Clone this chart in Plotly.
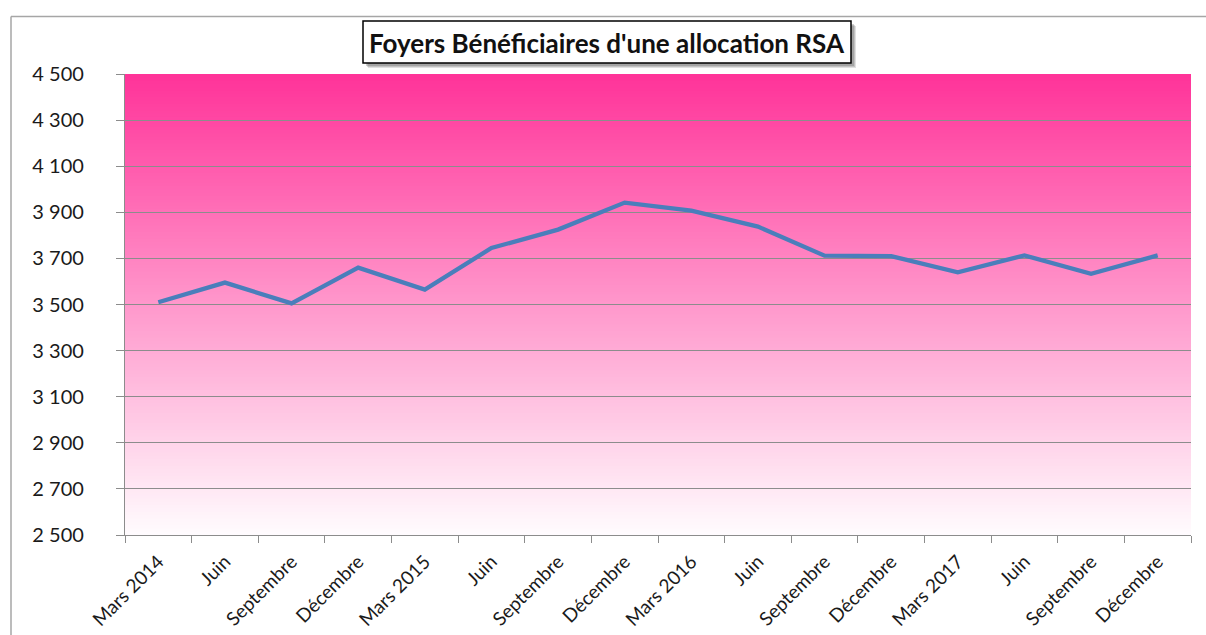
import plotly.graph_objects as go

# Quarterly series: households receiving RSA
periods = ["2014-03", "2014-06", "2014-09", "2014-12",
           "2015-03", "2015-06", "2015-09", "2015-12",
           "2016-03", "2016-06", "2016-09", "2016-12",
           "2017-03", "2017-06", "2017-09", "2017-12"]
period_labels = ["Mars 2014", "Juin", "Septembre", "Décembre",
                 "Mars 2015", "Juin", "Septembre", "Décembre",
                 "Mars 2016", "Juin", "Septembre", "Décembre",
                 "Mars 2017", "Juin", "Septembre", "Décembre"]
foyers_rsa = [3510, 3595, 3505, 3660, 3565, 3745, 3825, 3942,
              3907, 3838, 3712, 3710, 3640, 3713, 3633, 3713]

y_min, y_max, y_step = 2500, 4500, 200
title_text = "Foyers Bénéficiaires d'une allocation RSA"

W, H = 1206, 635
M_L, M_R, M_T, M_B = 125, 15, 74, 100
plot_w = W - M_L - M_R
plot_h = H - M_T - M_B

fig = go.Figure()
fig.add_trace(go.Scatter(
    x=periods, y=foyers_rsa, mode="lines",
    line=dict(color="#4A7EBB", width=4.3),
    hoverinfo="x+y", showlegend=False,
))

# Vertical pink-to-white gradient behind the plot area
top_rgb = (255, 51, 153)
bot_rgb = (255, 252, 254)
n_bands = 140
shapes = []
for i in range(n_bands):
    t0 = i / n_bands
    t1 = (i + 1) / n_bands
    tm = (t0 + t1) / 2
    c = tuple(round(bot_rgb[k] + (top_rgb[k] - bot_rgb[k]) * tm) for k in range(3))
    shapes.append(dict(
        type="rect", layer="below", xref="x domain", yref="y domain",
        x0=0, x1=1, y0=t0, y1=min(1, t1 + 0.004),
        fillcolor="rgb(%d,%d,%d)" % c, line=dict(width=0),
    ))

# Chart frame: left and top edges
px = lambda v: (v - M_L) / plot_w
py = lambda v: 1 - (v - M_T) / plot_h
frame_color = "#A6A6A6"
shapes.append(dict(type="line", xref="paper", yref="paper",
                   x0=px(11), x1=px(1210), y0=py(16.5), y1=py(16.5),
                   line=dict(color=frame_color, width=1.5)))
shapes.append(dict(type="line", xref="paper", yref="paper",
                   x0=px(11), x1=px(11), y0=py(16.5), y1=py(640),
                   line=dict(color=frame_color, width=1.5)))

# Title box shadow
for off, op in [(5, 0.18), (4, 0.22), (3, 0.28)]:
    shapes.append(dict(type="rect", xref="paper", yref="paper",
                       x0=px(363 + off), x1=px(851 + off),
                       y0=py(63 + off), y1=py(21 + off),
                       fillcolor="rgba(90,90,90,%.2f)" % op, line=dict(width=0)))
shapes.append(dict(type="rect", xref="paper", yref="paper",
                   x0=px(363), x1=px(851), y0=py(63), y1=py(21),
                   fillcolor="white", line=dict(color="black", width=1.5)))

fig.update_layout(
    width=W, height=H,
    margin=dict(l=M_L, r=M_R, t=M_T, b=M_B),
    paper_bgcolor="white", plot_bgcolor="rgba(0,0,0,0)",
    separators=", ",
    font=dict(family="Lato, 'Open Sans', sans-serif", color="#1a1a1a"),
    shapes=shapes,
    annotations=[dict(
        xref="paper", yref="paper", x=px(607), y=py(43),
        xanchor="center", yanchor="middle", showarrow=False,
        text="<b>" + title_text + "</b>",
        font=dict(family="Lato, sans-serif", size=26, color="#111111"),
    )],
)

fig.update_xaxes(
    type="category", categoryorder="array", categoryarray=periods,
    tickmode="array", tickvals=periods, ticktext=period_labels,
    tickson="boundaries", ticks="outside", ticklen=7, tickcolor="#8C8C8C",
    tickangle=-45, tickfont=dict(size=19, color="#1a1a1a"),
    ticklabelstandoff=7, automargin=False,
    showgrid=False, showline=True, linecolor="#8C8C8C", linewidth=1.2,
    range=[-0.5, len(periods) - 0.5], fixedrange=True,
)
fig.update_yaxes(
    range=[y_min, y_max], tick0=y_min, dtick=y_step, tickformat=",d",
    ticks="outside", ticklen=8, tickcolor="#8C8C8C",
    tickfont=dict(size=20, color="#1a1a1a"), ticklabelstandoff=28,
    automargin=False,
    showgrid=True, gridcolor="#8C8C8C", gridwidth=1.2,
    showline=True, linecolor="#8C8C8C", linewidth=1.2,
    zeroline=False, fixedrange=True,
)

fig.write_html("out.html")
